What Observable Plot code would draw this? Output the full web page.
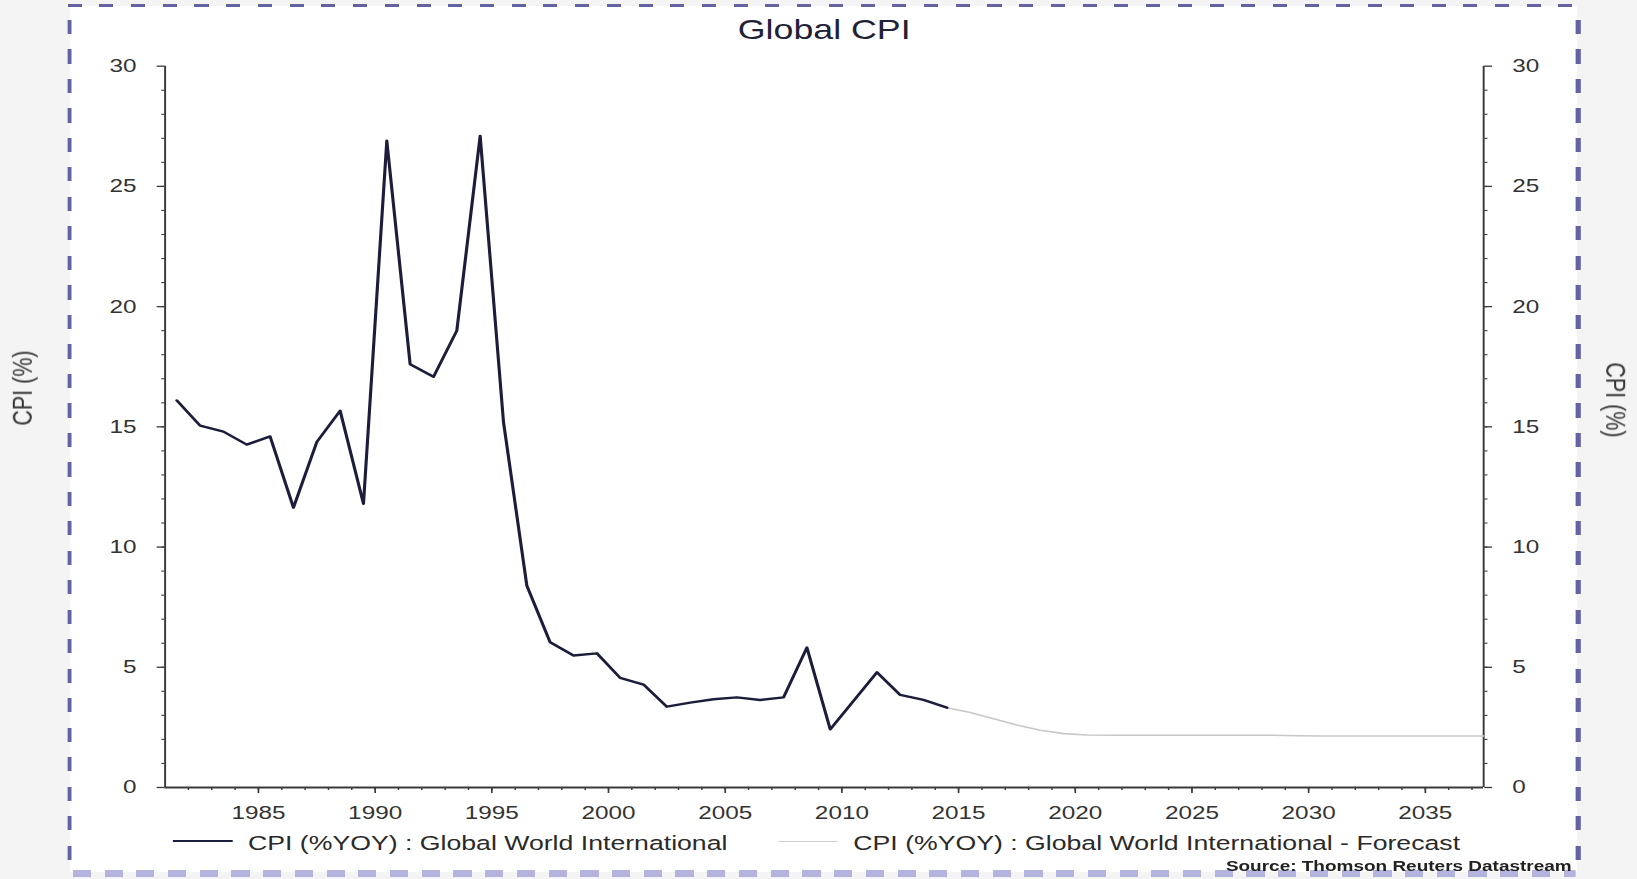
<!DOCTYPE html>
<html>
<head>
<meta charset="utf-8">
<script src="https://cdn.jsdelivr.net/npm/d3@7"></script>
<script src="https://cdn.jsdelivr.net/npm/@observablehq/plot@0.6"></script>
<style>
  html, body { margin: 0; padding: 0; background: #f4f4f4; overflow: hidden; }
  body { width: 1637px; height: 879px; position: relative; font-family: "Liberation Sans", Arial, sans-serif; }
  #stage { position: absolute; left: 0; top: 0; width: 1259.2px; height: 879px; transform: scaleX(1.3); transform-origin: 0 0; }
  #inner { position: absolute; left: 54px; top: 6px; width: 1159px; height: 866px; background: #ffffff; }
  .dash { position: absolute; }
  #dtop { left: 52px; top: 4px; width: 1162px; height: 3.3px;
          background: repeating-linear-gradient(to right, #6363a3 0 10.8px, transparent 10.8px 24.4px); }
  #dleft { left: 51.8px; top: 20px; width: 3.3px; height: 846px;
          background: repeating-linear-gradient(to bottom, #6363a3 0 14px, transparent 14px 29.5px); }
  #dright { left: 1212.3px; top: 20px; width: 3.3px; height: 846px;
          background: repeating-linear-gradient(to bottom, #6363a3 0 14px, transparent 14px 29.5px); }
  #dbottom { left: 56px; top: 870px; width: 1156px; height: 7px;
          background: repeating-linear-gradient(to right, #b3b3de 0 14px, transparent 14px 24.4px); }
  #chart { position: absolute; left: 0; top: 0; }
  #title { position: absolute; left: 634px; top: 16px; transform: translateX(-50%); font-size: 27.5px; line-height: 1; color: #1f2236; white-space: nowrap; }
  .ylab { position: absolute; font-size: 21.5px; line-height: 1; color: #333; white-space: nowrap; }
  #ylabL { left: 17.7px; top: 388px; transform: translate(-50%, -50%) rotate(-90deg); }
  #ylabR { left: 1241.5px; top: 400px; transform: translate(-50%, -50%) rotate(90deg); }
  .leg { position: absolute; top: 833.3px; font-size: 20.5px; line-height: 1; color: #2a2a2a; white-space: nowrap; }
  .swatch { position: absolute; height: 0; }
  #source { position: absolute; right: 50.2px; top: 858.6px; font-size: 14.6px; font-weight: bold; line-height: 1; color: #222; white-space: nowrap; }
</style>
</head>
<body>
<div id="stage">
  <div id="inner"></div>
  <div class="dash" id="dtop"></div>
  <div class="dash" id="dleft"></div>
  <div class="dash" id="dright"></div>
  <div class="dash" id="dbottom"></div>
  <div id="chart"></div>
  <div id="title"></div>
  <div class="ylab" id="ylabL"></div>
  <div class="ylab" id="ylabR"></div>
  <div class="swatch" id="sw1" style="left:133px; top:840px; width:45.5px; border-top:2.6px solid #1b1d3a;"></div>
  <div class="leg" id="leg1" style="left:190.8px;"></div>
  <div class="swatch" id="sw2" style="left:598.5px; top:841px; width:45.3px; border-top:1.5px solid #d0d0d0;"></div>
  <div class="leg" id="leg2" style="left:656.4px;"></div>
  <div id="source"></div>
</div>
<script>
// ---- texts ----
const titleText = "Global CPI";
const yLabel = "CPI (%)";
const seriesNames = ["CPI (%YOY) : Global World International", "CPI (%YOY) : Global World International - Forecast"];
const sourceText = "Source: Thomson Reuters Datastream";

// ---- data (annual, % year on year) ----
const actualYears = [1981,1982,1983,1984,1985,1986,1987,1988,1989,1990,1991,1992,1993,1994,1995,1996,1997,1998,1999,2000,2001,2002,2003,2004,2005,2006,2007,2008,2009,2010,2011,2012,2013,2014];
const actualCPI   = [16.1,15.05,14.8,14.26,14.6,11.64,14.37,15.67,11.8,26.9,17.6,17.08,19.0,27.1,15.2,8.4,6.04,5.49,5.58,4.56,4.28,3.36,3.53,3.67,3.75,3.64,3.75,5.82,2.42,3.6,4.79,3.85,3.64,3.32];
const forecastYears = [2014,2015,2016,2017,2018,2019,2020,2021,2022,2023,2024,2025,2026,2027,2028,2029,2030,2031,2032,2033,2034,2035,2036,2037];
const forecastCPI   = [3.32,3.12,2.86,2.6,2.38,2.24,2.18,2.17,2.17,2.17,2.17,2.17,2.17,2.17,2.17,2.15,2.14,2.14,2.14,2.14,2.14,2.14,2.14,2.14];

// ---- axes ----
const xDomain = [1981, 2037.5];
const yDomain = [0, 30];
const xMajorTicks = [1985,1990,1995,2000,2005,2010,2015,2020,2025,2030,2035];
const xMinorTicks = d3.range(1982, 2038);
const yMajorTicks = [0,5,10,15,20,25,30];
const yMinorTicks = d3.range(1, 30);

// annual values are plotted at mid-year
const actual = actualYears.map((year, i) => ({t: year + 0.5, cpi: actualCPI[i]}));
const forecast = forecastYears.map((year, i) => ({t: year + 0.5, cpi: forecastCPI[i]}));

const axisColor = "#3a3a3a";
const chart = Plot.plot({
  width: 1259.2,
  height: 830,
  marginLeft: 126.5,
  marginRight: 118.4,
  marginTop: 65.7,
  marginBottom: 43,
  style: {background: "transparent", fontFamily: "'Liberation Sans', Arial, sans-serif", fontSize: "18.7px", color: "#333", overflow: "visible"},
  x: {domain: xDomain, axis: null},
  y: {domain: yDomain, axis: null},
  marks: [
    Plot.axisX(xMinorTicks, {anchor: "bottom", tickSize: 3, fill: "none", stroke: axisColor, strokeWidth: 1.1, label: null}),
    Plot.axisX(xMajorTicks, {anchor: "bottom", tickSize: 6, tickPadding: 12, tickFormat: d => String(d), stroke: axisColor, strokeWidth: 1.3, fill: "#333", label: null}),
    Plot.axisY(yMinorTicks, {anchor: "left", tickSize: 2.4, fill: "none", stroke: axisColor, strokeWidth: 1.1, label: null}),
    Plot.axisY(yMajorTicks, {anchor: "left", tickSize: 6, tickPadding: 16, stroke: axisColor, strokeWidth: 1.3, fill: "#333", label: null}),
    Plot.axisY(yMinorTicks, {anchor: "right", tickSize: 2.4, fill: "none", stroke: axisColor, strokeWidth: 1.1, label: null}),
    Plot.axisY(yMajorTicks, {anchor: "right", tickSize: 6, tickPadding: 16, stroke: axisColor, strokeWidth: 1.3, fill: "#333", label: null}),
    Plot.ruleX(xDomain, {stroke: axisColor, strokeWidth: 1.5}),
    Plot.ruleY([0], {stroke: axisColor, strokeWidth: 1.8}),
    Plot.line(forecast, {x: "t", y: "cpi", stroke: "#c8c8c8", strokeWidth: 1.6}),
    Plot.line(actual, {x: "t", y: "cpi", stroke: "#1b1d3a", strokeWidth: 2.4})
  ]
});
document.getElementById("chart").appendChild(chart);
document.getElementById("title").textContent = titleText;
document.getElementById("ylabL").textContent = yLabel;
document.getElementById("ylabR").textContent = yLabel;
document.getElementById("leg1").textContent = seriesNames[0];
document.getElementById("leg2").textContent = seriesNames[1];
document.getElementById("source").textContent = sourceText;
</script>
</body>
</html>
